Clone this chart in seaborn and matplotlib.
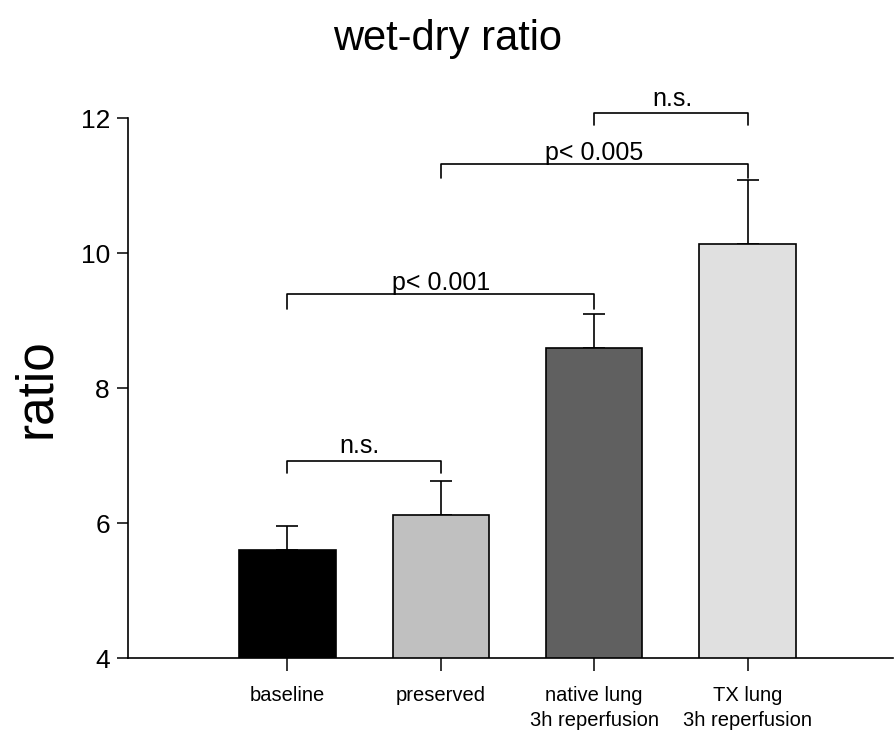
import matplotlib
matplotlib.use("Agg")
import matplotlib.pyplot as plt
import seaborn as sns
import pandas as pd

# Group means and upper SD for the lung wet/dry ratio
groups = ["baseline", "preserved", "native lung\n3h reperfusion", "TX lung\n3h reperfusion"]
means = [5.60, 6.12, 8.59, 10.13]
errors = [0.35, 0.50, 0.50, 0.95]
colors = ["#000000", "#c0c0c0", "#606060", "#e0e0e0"]

# Significance brackets: (left group, right group, bar height, leg bottom, label, label x, label lift)
brackets = [
    (0, 1, 6.92, 6.74, "n.s.", 0.47, 0.11),
    (0, 2, 9.39, 9.17, "p< 0.001", 1.0, 0.06),
    (1, 3, 11.32, 11.11, "p< 0.005", 2.0, 0.06),
    (2, 3, 12.07, 11.90, "n.s.", 2.51, 0.11),
]

yticks = [4, 6, 8, 10, 12]

sns.set_style("white")
plt.rcParams["font.family"] = ["Liberation Sans", "DejaVu Sans"]
plt.rcParams["text.color"] = "black"
plt.rcParams["axes.labelcolor"] = "black"
plt.rcParams["xtick.color"] = "black"
plt.rcParams["ytick.color"] = "black"

df = pd.DataFrame({"group": groups, "ratio": means})

fig = plt.figure(figsize=(8.95, 7.33), dpi=100)
ax = fig.add_axes([0.143, 0.1023, 0.855, 0.7367])

sns.barplot(data=df, x="group", y="ratio", hue="group", palette=colors,
            legend=False, width=0.63, edgecolor="black", linewidth=1.2,
            errorbar=None, ax=ax, zorder=2)

xpos = list(range(len(groups)))
ax.errorbar(xpos, means, yerr=[[0] * len(errors), errors], fmt="none",
            ecolor="black", elinewidth=1.2, capsize=8, capthick=1.2, zorder=1)

ax.set_ylim(4, 12)
ax.set_xlim(-1.04, 3.95)
ax.set_yticks(yticks)
ax.set_yticklabels([str(t) for t in yticks])
ax.tick_params(axis="y", labelsize=19, direction="out", length=8, width=1.1,
               left=True, pad=5)
ax.tick_params(axis="x", labelsize=14.5, direction="out", length=9, width=1.1,
               bottom=True, pad=11)
for lab in ax.get_xticklabels():
    lab.set_linespacing(1.4)
ax.set_xlabel("")
ax.set_ylabel("ratio", fontsize=37, labelpad=14)

for side in ["top", "right"]:
    ax.spines[side].set_visible(False)
for side in ["left", "bottom"]:
    ax.spines[side].set_linewidth(1.2)
    ax.spines[side].set_color("black")

for i, j, h, leg, label, lx, lift in brackets:
    ax.plot([i, i, j, j], [leg, h, h, leg], color="black", lw=1.2,
            clip_on=False, zorder=3)
    ax.text(lx, h + lift, label, ha="center", va="baseline", fontsize=18)

fig.text(0.5, 0.932, "wet-dry ratio", ha="center", va="baseline", fontsize=30)

fig.savefig("out.png", dpi=100)
